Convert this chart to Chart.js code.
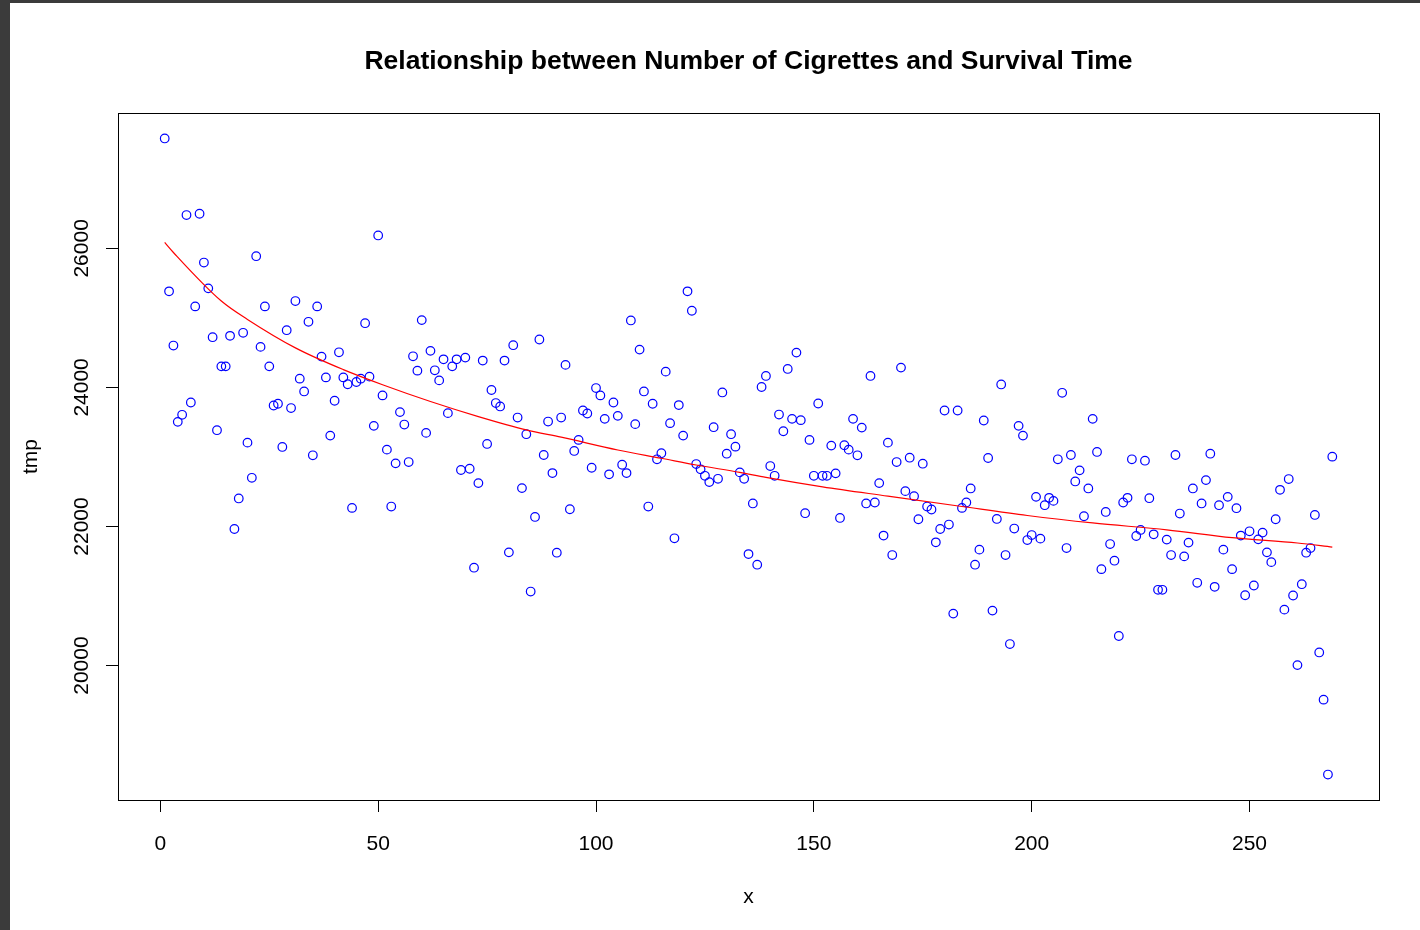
<!DOCTYPE html>
<html>
<head>
<meta charset="utf-8">
<script src="https://cdn.jsdelivr.net/npm/chart.js@4.4.1/dist/chart.umd.min.js"></script>
<style>
  html, body { margin: 0; padding: 0; background: #3b3b3b; width: 1420px; height: 930px; overflow: hidden; }
  #wrap { position: absolute; left: 10px; top: 3px; width: 1410px; height: 927px; background: #ffffff; }
  canvas { display: block; }
</style>
</head>
<body>
<div id="wrap"><canvas id="c" width="1410" height="927"></canvas></div>
<script>
// ---- data ----
const titleText = "Relationship between Number of Cigrettes and Survival Time";
const xLabel = "x";
const yLabel = "tmp";
const xTicks = [0, 50, 100, 150, 200, 250];
const yTicks = [20000, 22000, 24000, 26000];

// survival time values for x = 1 .. 269
const tmpValues = [
27581,25382,24602,23505,23606,26479,23783,25165,26498,25796,
25425,24722,23385,24303,24303,24742,21964,22403,24786,23206,
22700,25887,24583,25165,24303,23740,23765,23144,24823,23703,
25242,24126,23942,24944,23024,25165,24443,24144,23307,23808,
24505,24144,24046,22267,24078,24126,24924,24155,23447,26186,
23885,23105,22287,22908,23645,23466,22927,24448,24241,24968,
23346,24526,24246,24101,24404,23630,24303,24404,22812,24429,
22830,21407,22624,24386,23187,23963,23775,23726,24386,21628,
24607,23567,22552,23327,21064,22137,24689,23028,23509,22768,
21623,23567,24324,22248,23086,23245,23668,23625,22845,23991,
23885,23548,22750,23783,23591,22888,22768,24963,23472,24544,
23942,22287,23765,22966,23053,24227,23486,21830,23746,23307,
25382,25103,22898,22822,22729,22638,23428,22686,23928,23047,
23327,23148,22778,22686,21603,22331,21450,24006,24165,22869,
22729,23610,23370,24266,23548,24501,23529,22191,23245,22729,
23769,22729,22729,23163,22764,22123,23168,23105,23548,23024,
23422,22331,24165,22345,22624,21869,23206,21589,22927,24285,
22508,22989,22436,22104,22903,22287,22244,21772,21964,23668,
22028,20747,23668,22267,22345,22547,21450,21667,23524,22985,
20790,22108,24043,21589,20309,21970,23447,23307,21805,21877,
22426,21825,22306,22412,22368,22966,23923,21690,23028,22648,
22807,22147,22547,23548,23072,21386,22209,21747,21508,20425,
22345,22412,22966,21863,21950,22946,22407,21887,21089,21089,
21811,21589,23028,22186,21570,21768,22547,21190,22331,22667,
23047,21132,22306,21667,22426,21386,22263,21869,21011,21931,
21151,21815,21912,21628,21487,22104,22527,20804,22682,21007,
20006,21170,21623,21690,22166,20188,19509,18432,23004
];

// fitted red curve, read at several x positions
const curveX = [1, 3, 14, 20, 31, 42, 51, 62, 73, 84, 92, 105, 115, 123, 133, 139, 152, 167, 184, 199, 214, 231, 246, 261, 269];
const curveY = [26085, 25941, 25242, 24978, 24569, 24256, 24039, 23798, 23581, 23389, 23284, 23100, 22981, 22884, 22778, 22706, 22570, 22436, 22287, 22158, 22051, 21952, 21840, 21762, 21704];

// ---- build datasets ----
const points = tmpValues.map((v, i) => ({ x: i + 1, y: v }));
const curve = curveX.map((x, i) => ({ x: x, y: curveY[i] }));

// R-style axis ranges: data range extended by 4% on each side
const xMinD = 1, xMaxD = tmpValues.length;
const yMinD = Math.min(...tmpValues), yMaxD = Math.max(...tmpValues);
const xPad = (xMaxD - xMinD) * 0.04, yPad = (yMaxD - yMinD) * 0.04;

const FONT = "'Liberation Sans', Arial, sans-serif";

const boxPlugin = {
  id: 'box',
  afterDraw(chart) {
    const { ctx, chartArea: a } = chart;
    ctx.save();
    ctx.strokeStyle = '#000';
    ctx.lineWidth = 1;
    ctx.strokeRect(Math.round(a.left) + 0.5, Math.round(a.top) + 0.5,
                   Math.round(a.right - a.left), Math.round(a.bottom - a.top));
    // rotated y tick labels (R style, reading bottom to top)
    const ys = chart.scales.y;
    ctx.fillStyle = '#000';
    ctx.font = "21px " + FONT;
    ctx.textAlign = 'center';
    ctx.textBaseline = 'middle';
    yTicks.forEach(v => {
      const py = ys.getPixelForValue(v);
      ctx.save();
      ctx.translate(72, py);
      ctx.rotate(-Math.PI / 2);
      ctx.fillText(String(v), 0, 0);
      ctx.restore();
    });
    ctx.restore();
  }
};

new Chart(document.getElementById('c'), {
  type: 'scatter',
  data: {
    datasets: [
      {
        label: 'tmp',
        data: points,
        pointStyle: 'circle',
        pointRadius: 4.3,
        pointHoverRadius: 4.3,
        borderColor: '#0000ff',
        backgroundColor: 'rgba(0,0,0,0)',
        borderWidth: 1.2,
        order: 2
      },
      {
        label: 'fit',
        type: 'line',
        data: curve,
        borderColor: '#ff0000',
        borderWidth: 1.2,
        pointRadius: 0,
        fill: false,
        cubicInterpolationMode: 'monotone',
        order: 1
      }
    ]
  },
  options: {
    responsive: false,
    animation: false,
    devicePixelRatio: 1,
    layout: { padding: { left: 0, right: 41, top: 0, bottom: 0 } },
    plugins: {
      legend: { display: false },
      tooltip: { enabled: false },
      title: {
        display: true,
        text: titleText,
        fullSize: false,
        color: '#000',
        font: { family: FONT, size: 26.5, weight: 'bold', lineHeight: 1.2 },
        padding: { top: 43, bottom: 35.2 }
      }
    },
    scales: {
      x: {
        type: 'linear',
        min: xMinD - xPad,
        max: xMaxD + xPad,
        afterBuildTicks: s => { s.ticks = xTicks.map(v => ({ value: v })); },
        afterFit: s => { s.height = 130; },
        border: { display: false },
        grid: { drawOnChartArea: false, drawTicks: true, tickLength: 12, color: '#000', lineWidth: 1 },
        ticks: { color: '#000', font: { family: FONT, size: 21, lineHeight: 1.2 }, padding: 20, maxRotation: 0, autoSkip: false },
        title: { display: true, text: xLabel, color: '#000', font: { family: FONT, size: 21, lineHeight: 1.2 }, padding: { top: 0, bottom: 20 } }
      },
      y: {
        type: 'linear',
        min: yMinD - yPad,
        max: yMaxD + yPad,
        afterBuildTicks: s => { s.ticks = yTicks.map(v => ({ value: v })); },
        afterFit: s => { s.width = 108; },
        border: { display: false },
        grid: { drawOnChartArea: false, drawTicks: true, tickLength: 12, color: '#000', lineWidth: 1 },
        ticks: { display: false },
        title: { display: true, text: yLabel, color: '#000', font: { family: FONT, size: 21, lineHeight: 1.2 }, padding: { top: 9, bottom: 0 } }
      }
    }
  },
  plugins: [boxPlugin]
});
</script>
</body>
</html>
